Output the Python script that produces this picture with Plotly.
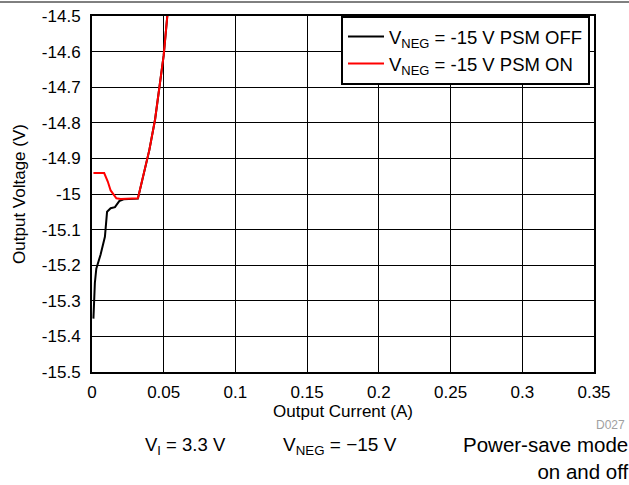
import plotly.graph_objects as go

off_x = [0.001, 0.0015, 0.002, 0.003, 0.006, 0.009, 0.0105, 0.013, 0.016, 0.019, 0.022, 0.032, 0.036, 0.040, 0.044, 0.047, 0.050, 0.0525]
off_y = [-15.35, -15.30, -15.25, -15.21, -15.17, -15.12, -15.05, -15.04, -15.037, -15.02, -15.015, -15.013, -14.94, -14.876, -14.79, -14.70, -14.61, -14.5]

on_x = [0.001, 0.0085, 0.011, 0.013, 0.017, 0.020, 0.032, 0.036, 0.040, 0.044, 0.047, 0.050, 0.0525]
on_y = [-14.941, -14.941, -14.965, -14.99, -15.012, -15.014, -15.012, -14.94, -14.876, -14.79, -14.70, -14.61, -14.5]

x_ticks = [0, 0.05, 0.1, 0.15, 0.2, 0.25, 0.3, 0.35]
x_tick_labels = ["0", "0.05", "0.1", "0.15", "0.2", "0.25", "0.3", "0.35"]
y_ticks = [-15.5, -15.4, -15.3, -15.2, -15.1, -15.0, -14.9, -14.8, -14.7, -14.6, -14.5]
y_tick_labels = ["-15.5", "-15.4", "-15.3", "-15.2", "-15.1", "-15", "-14.9", "-14.8", "-14.7", "-14.6", "-14.5"]

FONT = "Liberation Sans, Arial, sans-serif"

L, R, T, B = 92, 594, 16, 372
PW, PH = R - L, B - T

fig = go.Figure()
fig.add_trace(go.Scatter(x=off_x, y=off_y, mode="lines",
                         line=dict(color="black", width=2),
                         name="V<sub>NEG</sub> = -15 V PSM OFF"))
fig.add_trace(go.Scatter(x=on_x, y=on_y, mode="lines",
                         line=dict(color="#ff0000", width=2),
                         name="V<sub>NEG</sub> = -15 V PSM ON"))

fig.update_layout(
    width=629, height=485,
    margin=dict(l=L, r=629 - R, t=T, b=485 - B, autoexpand=False),
    paper_bgcolor="white", plot_bgcolor="white",
    font=dict(family=FONT, size=17, color="black"),
    showlegend=True,
    legend=dict(x=(590 - L) / PW, y=1.0, xanchor="right", yanchor="top",
                bordercolor="black", borderwidth=2, bgcolor="white",
                font=dict(family=FONT, size=18.5, color="black"),
                tracegroupgap=0, itemwidth=36),
    xaxis=dict(range=[0, 0.35], tickvals=x_ticks, ticktext=x_tick_labels,
               showgrid=True, gridcolor="black", gridwidth=1,
               showline=True, linecolor="black", linewidth=2, mirror=True,
               ticks="", zeroline=False, ticklabelstandoff=4, automargin=False,
               tickfont=dict(family=FONT, size=17),
               title=dict(text="Output Current (A)", standoff=0,
                          font=dict(family=FONT, size=17))),
    yaxis=dict(range=[-15.5, -14.5], tickvals=y_ticks, ticktext=y_tick_labels,
               showgrid=True, gridcolor="black", gridwidth=1,
               showline=True, linecolor="black", linewidth=2, mirror=True,
               ticks="", zeroline=False, ticklabelstandoff=6, automargin=False,
               tickfont=dict(family=FONT, size=17),
               title=dict(text="Output Voltage (V)", standoff=12,
                          font=dict(family=FONT, size=17))),
)

fig.add_shape(type="line", xref="paper", yref="paper",
              x0=-L / PW, x1=(629 - L) / PW, y0=1 + 14 / PH, y1=1 + 14 / PH,
              line=dict(color="black", width=1))

fig.add_annotation(text="D027", xref="paper", yref="paper",
                   x=(627 - L) / PW, y=-(425 - B) / PH, xanchor="right", yanchor="middle",
                   showarrow=False, font=dict(family=FONT, size=12, color="#a0a0a0"))
fig.add_annotation(text="V<sub>I</sub> = 3.3 V", xref="paper", yref="paper",
                   x=(185 - L) / PW, y=-(446 - B) / PH, xanchor="center", yanchor="middle",
                   showarrow=False, font=dict(family=FONT, size=18.5, color="black"))
fig.add_annotation(text="V<sub>NEG</sub> = \u221215 V", xref="paper", yref="paper",
                   x=(340 - L) / PW, y=-(446 - B) / PH, xanchor="center", yanchor="middle",
                   showarrow=False, font=dict(family=FONT, size=19, color="black"))
fig.add_annotation(text="Power-save mode<br>on and off", xref="paper", yref="paper",
                   x=(631 - L) / PW, y=-(431 - B) / PH, xanchor="right", yanchor="top",
                   align="right", showarrow=False,
                   font=dict(family=FONT, size=20.5, color="black"))

fig.write_html("out.html", config={"displayModeBar": False},
               post_script="document.body.style.margin='0px';")
